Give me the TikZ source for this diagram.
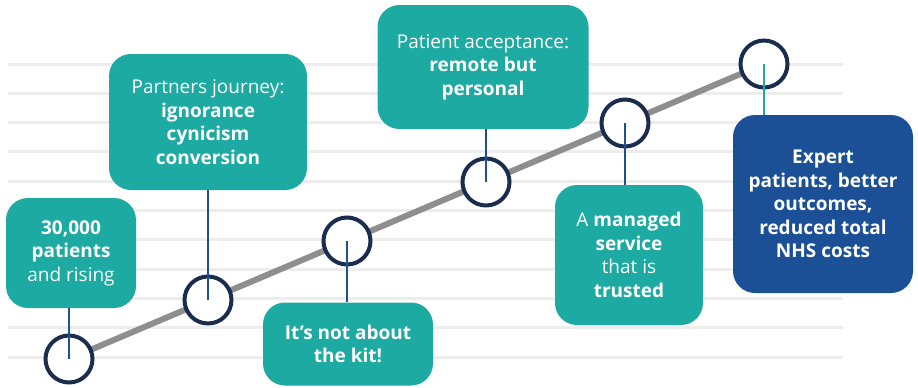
\documentclass[tikz,border=0pt]{standalone}
\usepackage{fontspec}
\setmainfont{Open Sans}
\definecolor{tealbox}{HTML}{1DAAA2}
\definecolor{bluebox}{HTML}{1C5096}
\definecolor{ringblue}{HTML}{1B2D4F}
\definecolor{linkblue}{HTML}{1F4F99}
\definecolor{trendgray}{HTML}{8E8E8E}
\definecolor{gridgray}{HTML}{EDEDED}
\begin{document}
\begin{tikzpicture}[x=1pt,y=-1pt,
	box/.style={fill=tealbox, text=white, rounded corners=22pt, align=center,
		font=\fontsize{19}{23.5}\selectfont, inner sep=0pt},
	ring/.style={circle, draw=ringblue, line width=4pt, fill=white,
		minimum size=47pt, inner sep=0pt},
	link/.style={draw=linkblue, line width=2pt},
	trend/.style={draw=trendgray, line width=6pt},
	gridline/.style={draw=gridgray, line width=3pt}]
	\useasboundingbox (0,0) rectangle (918,388);
	% background rules
	\foreach \i in {0,...,10}
		\draw[gridline] (8,{64+29.3*\i}) -- (843,{64+29.3*\i});
	% steps on the trend
	\coordinate (p1) at (69,359);
	\coordinate (p2) at (208,300);
	\coordinate (p3) at (347,241);
	\coordinate (p4) at (486,182);
	\coordinate (p5) at (625,123);
	\coordinate (p6) at (764,64);
	\draw[trend] (p1) -- (p6);
	\foreach \i in {1,...,6}
		\node[ring] (c\i) at (p\i) {};
	% boxes
	\node[box, minimum width=130pt, minimum height=110pt] (b1) at (71,253)
		{\textbf{30,000}\\\textbf{patients}\\and rising};
	\node[box, minimum width=198pt, minimum height=136pt] (b2) at (208,122)
		{Partners journey:\\\textbf{ignorance}\\\textbf{cynicism}\\\textbf{conversion}};
	\node[box, minimum width=170pt, minimum height=83pt] (b3) at (348,344)
		{\textbf{It’s not about}\\\textbf{the kit!}};
	\node[box, minimum width=211pt, minimum height=124pt] (b4) at (483,67)
		{Patient acceptance:\\\textbf{remote but}\\\textbf{personal}};
	\node[box, minimum width=148pt, minimum height=140pt] (b5) at (629,255)
		{A \textbf{managed}\\\textbf{service}\\that is\\\textbf{trusted}};
	\node[box, fill=bluebox, minimum width=180pt, minimum height=178pt] (b6) at (823,204)
		{\textbf{Expert}\\\textbf{patients, better}\\\textbf{outcomes,}\\\textbf{reduced total}\\\textbf{NHS costs}};
	% links
	\draw[link] (b1.south -| c1) -- (c1.center);
	\draw[link] (b2.south -| c2) -- (c2.center);
	\draw[link] (b3.north -| c3) -- (c3.center);
	\draw[link] (b4.south -| c4) -- (c4.center);
	\draw[link] (b5.north -| c5) -- (c5.center);
	\draw[link, draw=tealbox] (b6.north -| c6) -- (c6.center);
\end{tikzpicture}
\end{document}
